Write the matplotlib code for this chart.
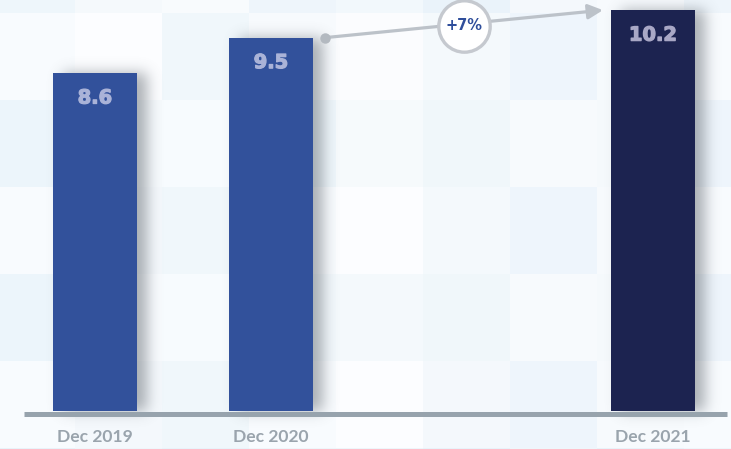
import matplotlib
matplotlib.use("Agg")
import matplotlib.pyplot as plt
import matplotlib.patheffects as pe
import numpy as np
from matplotlib.colors import to_rgb
from matplotlib.lines import Line2D

# ---- data ----
categories = ["Dec 2019", "Dec 2020", "Dec 2021"]
values = [8.6, 9.5, 10.2]
value_labels = ["8.6", "9.5", "10.2"]
change_label = "+7%"

# ---- layout / style ----
slot_pos = [0, 1, 3.17]
bar_width = 0.477
bar_colors = ["#32519b", "#32519b", "#1c2350"]
label_colors = ["#aab3d8", "#aab3d8", "#a9a8c6"]
tick_color = "#9aa4ad"

W, H, DPI = 7.31, 4.49, 100
WPX, HPX = 731, 449
fig = plt.figure(figsize=(W, H), dpi=DPI)

# background tiles
tiles = [
    ["#eef6fb", "#f5f9fc", "#f8fbfd", "#eef5fb", "#f2f8fc", "#eaf3fa", "#f4f8fc", "#f7fafd", "#eef5fb"],
    ["#f8fbfe", "#fcfdff", "#f0f7fb", "#f7fafd", "#fbfcfe", "#f4f9fc", "#eef5fc", "#f6fafd", "#f8fbfe"],
    ["#ecf5fb", "#f6fafd", "#f7fbfe", "#eef6fb", "#f6fafc", "#f0f7fa", "#f7fafd", "#f5f9fc", "#eef5fc"],
    ["#f8fbfe", "#f4f8fc", "#f0f7fb", "#f8fbfe", "#fcfdff", "#f4f9fc", "#eef5fc", "#f7fafd", "#f8fbfe"],
    ["#ecf5fb", "#f8fbfe", "#f7fbfe", "#f2f8fc", "#f4f9fc", "#f0f7fa", "#f7fafd", "#f5f9fc", "#eef5fc"],
    ["#f8fbfe", "#f4f8fc", "#f0f7fb", "#f8fbfe", "#fcfdff", "#f4f8fc", "#eef5fc", "#f7fafd", "#f8fbfe"],
    ["#e8f3fa", "#eef6fb", "#e8f3fa", "#eef6fb", "#eef6fb", "#e8f3fa", "#eef6fb", "#e8f3fa", "#eef6fb"],
]
bg = fig.add_axes([0, 0, 1, 1], zorder=0)
img = np.array([[to_rgb(c) for c in row] for row in tiles])
bg.imshow(img, extent=(-12, -12 + 9 * 87, 13 + 6 * 87, -74), origin="upper",
          interpolation="nearest", aspect="auto")
bg.set_xlim(0, WPX)
bg.set_ylim(HPX, 0)
bg.axis("off")

# main axes
ax = fig.add_axes([0, 38 / 449, 1, 411 / 449], zorder=1)
ax.patch.set_alpha(0)
ax.set_ylim(0, 411 / 39.3)
ax.set_xlim(-95 / 176, (731 - 95) / 176)
px_x = 1 / 176.0
px_y = 1 / 39.3

ax.bar(slot_pos, values, width=bar_width, color=bar_colors, linewidth=0, zorder=3)

# blurred drop shadow computed from bar geometry
mask = np.zeros((HPX, WPX))
shift = 10
for x, v in zip(slot_pos, values):
    (dx0, dy0) = ax.transData.transform((x - bar_width / 2, 0))
    (dx1, dy1) = ax.transData.transform((x + bar_width / 2, v))
    c0, c1 = int(round(dx0)) + shift, int(round(dx1)) + shift
    r0, r1 = int(round(HPX - dy1)), int(round(HPX - dy0))
    mask[max(r0, 0):min(r1, HPX), max(c0, 0):min(c1, WPX)] = 1.0
sigma = 7.0
k = np.arange(-int(3 * sigma), int(3 * sigma) + 1)
kern = np.exp(-k ** 2 / (2 * sigma ** 2))
kern /= kern.sum()
blur = np.apply_along_axis(lambda r: np.convolve(r, kern, mode="same"), 1, mask)
blur = np.apply_along_axis(lambda c: np.convolve(c, kern, mode="same"), 0, blur)
shadow = np.zeros((HPX, WPX, 4))
shadow[..., :3] = to_rgb("#6a7178")
shadow[..., 3] = 0.55 * blur
bg.imshow(shadow, extent=(0, WPX, HPX, 0), origin="upper", interpolation="bilinear",
          aspect="auto", zorder=2)
bg.set_xlim(0, WPX)
bg.set_ylim(HPX, 0)

for x, v, lab, lc in zip(slot_pos, values, value_labels, label_colors):
    ax.annotate(lab, (x, v), xytext=(0, -18), textcoords="offset points",
                ha="center", va="center", fontsize=14, fontweight="bold",
                color=lc, family="DejaVu Sans", zorder=4,
                path_effects=[pe.withStroke(linewidth=0.9, foreground=lc)])

# arrow between Dec 2020 and Dec 2021
x0 = slot_pos[1] + bar_width / 2 + 12 * px_x
y0 = values[1]
x1 = slot_pos[2] - bar_width / 2 - 8 * px_x
y1 = values[2]
ax.annotate("", xy=(x1, y1), xytext=(x0, y0),
            arrowprops=dict(arrowstyle="-|>", color="#bcc2c9", lw=2.3,
                            mutation_scale=22, shrinkA=0, shrinkB=0),
            zorder=5, annotation_clip=False)
ax.plot([x0], [y0], marker="o", ms=6.5, color="#b3b9c0", zorder=6, clip_on=False)
xm, ym = (x0 + x1) / 2, (y0 + y1) / 2 - 2 * px_y
ax.plot([xm], [ym], marker="o", ms=37, mfc="white", mec="#c5c9cf", mew=2.4,
        zorder=6, clip_on=False)
ax.text(xm, ym, change_label, ha="center", va="center", fontsize=10.5,
        fontweight="bold", color="#2f4e9b", family="DejaVu Sans", zorder=7)

# axes styling
for s in ax.spines.values():
    s.set_visible(False)
ax.set_yticks([])
ax.set_xticks(slot_pos)
ax.set_xticklabels(categories)
ax.tick_params(axis="x", length=0, pad=13, labelsize=12.6, labelcolor=tick_color)
for t in ax.get_xticklabels():
    t.set_fontfamily("Lato")
    t.set_fontweight("bold")

# baseline
fig.add_artist(Line2D([24 / 731, 727 / 731], [(449 - 413.5) / 449] * 2,
                      color="#97a3ad", lw=3.6, zorder=10, solid_capstyle="butt"))

fig.savefig("out.png", dpi=DPI)
